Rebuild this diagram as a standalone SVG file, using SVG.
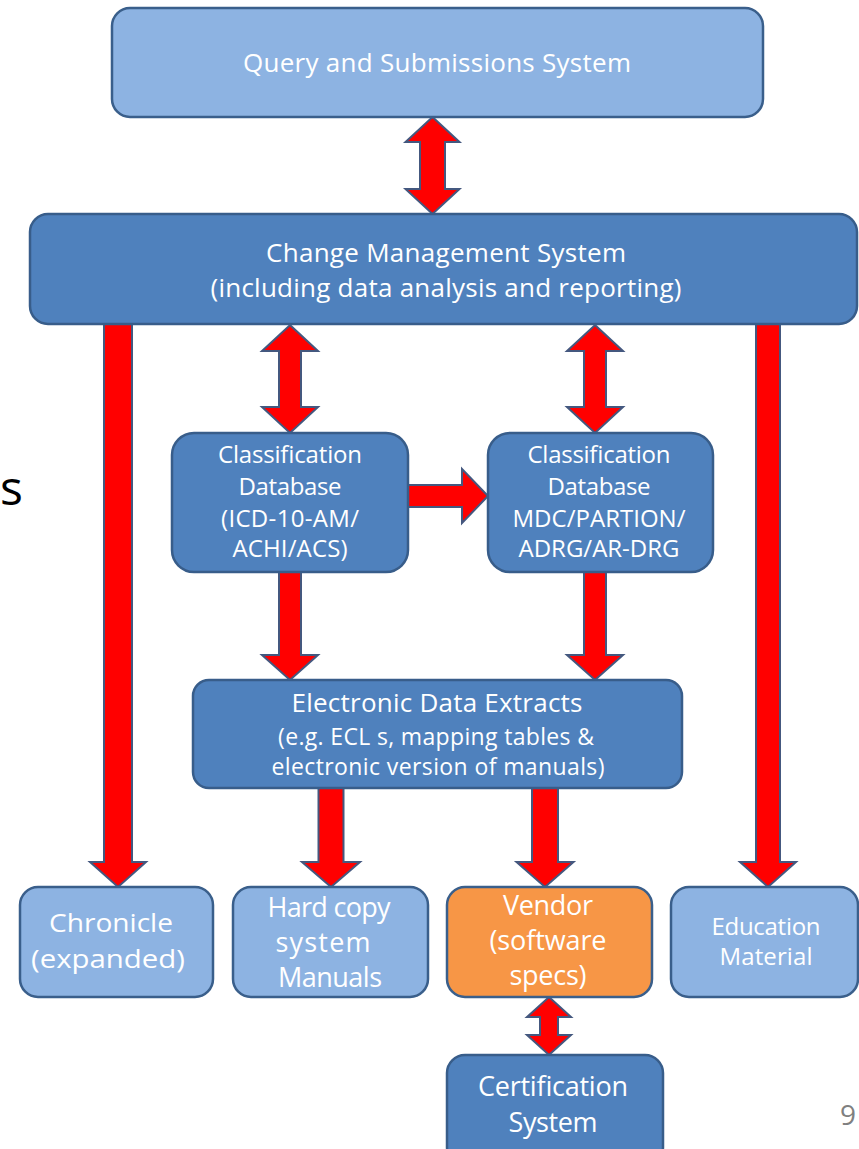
<svg xmlns="http://www.w3.org/2000/svg" width="859" height="1149" viewBox="0 0 859 1149">
<style>
.lt{fill:#8DB3E2;stroke:#3A5F8B;stroke-width:2.5}
.dk{fill:#4F81BD;stroke:#385D8A;stroke-width:2.5}
.or{fill:#F79646;stroke:#3A5F8B;stroke-width:2.5}
.ar{fill:#FF0000;stroke:#44587F;stroke-width:2;stroke-linejoin:miter}
.t{font-family:"Open Sans","Liberation Sans",sans-serif;fill:#FFFFFF;text-anchor:middle}
.s27{font-size:27px}.s26{font-size:26px}.s24{font-size:24px}.s23{font-size:23px}
</style>
<rect width="859" height="1149" fill="#FFFFFF"/>
<g id="connectors">
<polygon class="ar" points="432.5,117 459.5,142 445,142 445,189 459.5,189 432.5,214 405.5,189 420,189 420,142 405.5,142"/>
<polygon class="ar" points="290,325 318,351 301,351 301,407 318,407 290,433 262,407 279,407 279,351 262,351"/>
<polygon class="ar" points="595,325 623,351 606,351 606,407 623,407 595,433 567,407 584,407 584,351 567,351"/>
<polygon class="ar" points="408,485 462,485 462,469 488,496 462,523 462,507 408,507"/>
<polygon class="ar" points="279,572 301,572 301,655 318,655 290,680 262,655 279,655"/>
<polygon class="ar" points="584,572 606,572 606,655 623,655 595,680 567,655 584,655"/>
<polygon class="ar" points="104,324 132,324 132,862 146,862 118,887 90,862 104,862"/>
<polygon class="ar" points="756,324 780,324 780,862 796,862 768,887 740,862 756,862"/>
<polygon class="ar" points="318.5,788 343.5,788 343.5,862 360,862 331,887 302,862 318.5,862"/>
<polygon class="ar" points="532,788 558,788 558,862 573.5,862 545,887 516.5,862 532,862"/>
<polygon class="ar" points="549,997 571,1017 558,1017 558,1035 571,1035 549,1055 527,1035 540,1035 540,1017 527,1017"/>
</g>
<g id="query">
<rect class="lt" x="112" y="8" width="651" height="109" rx="18"/>
<text class="t s26" x="437" y="72" textLength="388">Query and Submissions System</text>
</g>
<g id="cms">
<rect class="dk" x="30" y="214" width="827" height="110" rx="18"/>
<text class="t s26" x="446" y="262" textLength="360">Change Management System</text>
<text class="t s26" x="446" y="297" textLength="471">(including data analysis and reporting)</text>
</g>
<g id="classdb1">
<rect class="dk" x="172" y="433" width="236" height="139" rx="22"/>
<text class="t s24" x="290" y="463" textLength="144">Classification</text>
<text class="t s24" x="290" y="495" textLength="103">Database</text>
<text class="t s24" x="290" y="527" textLength="138">(ICD-10-AM/</text>
<text class="t s24" x="290" y="557" textLength="115">ACHI/ACS)</text>
</g>
<g id="classdb2">
<rect class="dk" x="488" y="433" width="225" height="139" rx="22"/>
<text class="t s24" x="599" y="463" textLength="143">Classification</text>
<text class="t s24" x="599" y="495" textLength="103">Database</text>
<text class="t s24" x="599" y="527" textLength="173">MDC/PARTION/</text>
<text class="t s24" x="599" y="557" textLength="161">ADRG/AR-DRG</text>
</g>
<g id="extracts">
<rect class="dk" x="193" y="680" width="489" height="108" rx="16"/>
<text class="t s26" x="437" y="712" textLength="291">Electronic Data Extracts</text>
<text class="t s23" x="436" y="745" textLength="316">(e.g. ECL s, mapping tables &amp;</text>
<text class="t s23" x="438" y="775" textLength="333">electronic version of manuals)</text>
</g>
<g id="chronicle">
<rect class="lt" x="20" y="887" width="193" height="110" rx="18"/>
<text class="t s26" x="111" y="932" textLength="124" lengthAdjust="spacingAndGlyphs">Chronicle</text>
<text class="t s26" x="108" y="968" textLength="154" lengthAdjust="spacingAndGlyphs">(expanded)</text>
</g>
<g id="hardcopy">
<rect class="lt" x="233" y="887" width="195" height="110" rx="18"/>
<text class="t s27" x="329" y="917" textLength="123">Hard copy</text>
<text class="t s27" x="323" y="952" textLength="95">system</text>
<text class="t s27" x="330" y="987" textLength="104">Manuals</text>
</g>
<g id="vendor">
<rect class="or" x="447" y="887" width="205" height="110" rx="18"/>
<text class="t s27" x="548" y="915" textLength="90">Vendor</text>
<text class="t s27" x="548" y="950" textLength="117">(software</text>
<text class="t s27" x="548" y="985" textLength="77">specs)</text>
</g>
<g id="education">
<rect class="lt" x="671" y="887" width="187" height="110" rx="18"/>
<text class="t s24" x="766" y="935" textLength="109">Education</text>
<text class="t s24" x="766" y="965" textLength="93">Material</text>
</g>
<g id="certification">
<rect class="dk" x="447" y="1055" width="216" height="110" rx="18"/>
<text class="t s27" x="553" y="1096" textLength="150">Certification</text>
<text class="t s27" x="553" y="1132" textLength="89">System</text>
</g>
<g id="fragments">
<text x="0" y="505" font-family="Open Sans, Liberation Sans, sans-serif" font-size="48" fill="#000000">s</text>
<text x="840" y="1125" font-family="Open Sans, Liberation Sans, sans-serif" font-size="28" fill="#808080">9</text>
</g>
</svg>
